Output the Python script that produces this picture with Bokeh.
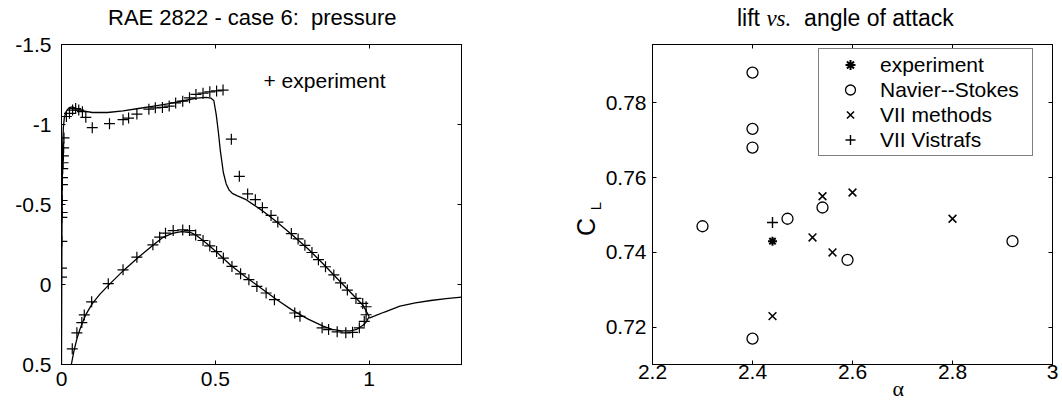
from bokeh.plotting import figure
from bokeh.layouts import row, column
from bokeh.models import Range1d, FixedTicker, LinearAxis, Label, Legend, LegendItem, Div
from bokeh.embed import file_html
from bokeh.resources import INLINE

FONT = "Liberation Sans"
SERIF = "Liberation Serif"

# ---------------- left panel: pressure distribution ----------------
left_title = "RAE 2822 - case 6:  pressure"
left_xticks = [0, 0.5, 1]
left_xtick_labels = ["0", "0.5", "1"]
left_yticks = [-1.5, -1, -0.5, 0, 0.5]
left_ytick_labels = ["-1.5", "-1", "-0.5", "0", "0.5"]

# computed Cp, upper surface (from leading edge to trailing edge)
cp_upper_x = [0.0, 0.0005, 0.001, 0.0015, 0.002, 0.003, 0.004, 0.006, 0.009, 0.013,
              0.018, 0.025, 0.035, 0.05, 0.07, 0.1, 0.15, 0.2, 0.25, 0.3,
              0.35, 0.4, 0.44, 0.47, 0.485, 0.495, 0.503, 0.51, 0.516, 0.526,
              0.535, 0.545, 0.555, 0.57, 0.6, 0.65, 0.7, 0.75, 0.8, 0.85,
              0.9, 0.95, 0.98, 1.0]
cp_upper_y = [0.5, 0.2, -0.1, -0.35, -0.55, -0.75, -0.88, -0.98, -1.04, -1.07,
              -1.09, -1.105, -1.11, -1.1, -1.085, -1.075, -1.075, -1.085, -1.1, -1.115,
              -1.13, -1.15, -1.165, -1.17, -1.165, -1.15, -1.06, -0.95, -0.84, -0.7,
              -0.63, -0.59, -0.57, -0.555, -0.53, -0.465, -0.39, -0.31, -0.225, -0.13,
              -0.03, 0.07, 0.13, 0.2]

# computed Cp, lower surface
cp_lower_x = [0.032, 0.04, 0.05, 0.06, 0.07, 0.08, 0.1, 0.125, 0.15, 0.2,
              0.25, 0.3, 0.33, 0.36, 0.39, 0.42, 0.44, 0.47, 0.5, 0.55,
              0.6, 0.65, 0.7, 0.75, 0.8, 0.85, 0.88, 0.91, 0.94, 0.96,
              0.98, 0.99, 1.0]
cp_lower_y = [0.5, 0.42, 0.34, 0.28, 0.23, 0.185, 0.12, 0.06, 0.01, -0.085,
              -0.17, -0.25, -0.295, -0.32, -0.33, -0.325, -0.305, -0.26, -0.21, -0.12,
              -0.045, 0.025, 0.095, 0.16, 0.215, 0.26, 0.28, 0.29, 0.29, 0.28,
              0.255, 0.235, 0.2]

# computed Cp in the wake
wake_x = [1.0, 1.02, 1.05, 1.1, 1.15, 1.2, 1.25, 1.3]
wake_y = [0.21, 0.195, 0.172, 0.135, 0.115, 0.1, 0.088, 0.079]

# experiment, upper surface
exp_upper_x = [0.0, 0.0, 0.001, 0.001, 0.002, 0.002, 0.003, 0.003, 0.004, 0.005,
               0.006, 0.007, 0.008, 0.016, 0.026, 0.036, 0.046, 0.056, 0.068, 0.079,
               0.10, 0.156, 0.20, 0.218, 0.245, 0.284, 0.305, 0.328, 0.35, 0.371,
               0.394, 0.416, 0.437, 0.46, 0.482, 0.504, 0.525, 0.552, 0.578, 0.605,
               0.63, 0.653, 0.681, 0.703, 0.747, 0.769, 0.791, 0.814, 0.835, 0.858,
               0.885, 0.907, 0.929, 0.957, 0.979, 0.99]
exp_upper_y = [-0.046, -0.102, -0.27, -0.419, -0.45, -0.525, -0.624, -0.668, -0.724, -0.761,
               -0.804, -0.854, -0.916, -1.05, -1.07, -1.09, -1.10, -1.09, -1.08, -1.045,
               -0.98, -1.005, -1.03, -1.04, -1.065, -1.096, -1.104, -1.107, -1.115, -1.135,
               -1.146, -1.167, -1.188, -1.196, -1.204, -1.21, -1.215, -0.908, -0.676, -0.566,
               -0.53, -0.48, -0.432, -0.39, -0.318, -0.285, -0.245, -0.2, -0.155, -0.111,
               -0.06, -0.01, 0.035, 0.087, 0.118, 0.139]

# experiment, lower surface
exp_lower_x = [0.035, 0.05, 0.066, 0.074, 0.098, 0.152, 0.2, 0.245, 0.297, 0.319,
               0.338, 0.363, 0.394, 0.416, 0.436, 0.46, 0.482, 0.504, 0.526, 0.554,
               0.582, 0.609, 0.635, 0.665, 0.692, 0.758, 0.775, 0.847, 0.868, 0.896,
               0.924, 0.946, 0.968, 0.984, 0.99]
exp_lower_y = [0.402, 0.302, 0.238, 0.19, 0.108, -0.005, -0.092, -0.171, -0.248, -0.296,
               -0.321, -0.337, -0.341, -0.337, -0.31, -0.275, -0.241, -0.206, -0.165, -0.113,
               -0.067, -0.03, 0.012, 0.053, 0.095, 0.178, 0.199, 0.271, 0.282, 0.296,
               0.302, 0.299, 0.271, 0.23, 0.189]

# ---------------- right panel: lift vs angle of attack ----------------
right_xticks = [2.2, 2.4, 2.6, 2.8, 3.0]
right_xtick_labels = ["2.2", "2.4", "2.6", "2.8", "3"]
right_yticks = [0.72, 0.74, 0.76, 0.78]
right_ytick_labels = ["0.72", "0.74", "0.76", "0.78"]

exp_alpha = [2.44]
exp_cl = [0.743]
ns_alpha = [2.4, 2.4, 2.4, 2.3, 2.47, 2.54, 2.59, 2.4, 2.92]
ns_cl = [0.788, 0.773, 0.768, 0.747, 0.749, 0.752, 0.738, 0.717, 0.743]
vii_alpha = [2.54, 2.6, 2.52, 2.56, 2.44, 2.8]
vii_cl = [0.755, 0.756, 0.744, 0.740, 0.723, 0.749]
vis_alpha = [2.44]
vis_cl = [0.748]
legend_labels = ["experiment", "Navier--Stokes", "VII methods", "VII Vistrafs"]


def style(p, xticks, xlabels, yticks, ylabels, xstandoff, ystandoff):
    p.xgrid.visible = False
    p.ygrid.visible = False
    p.outline_line_color = "black"
    p.outline_line_width = 1
    p.outline_line_alpha = 1
    p.background_fill_color = "white"
    p.border_fill_color = None
    xa = p.below[0]
    ya = p.left[0]
    xa.ticker = FixedTicker(ticks=xticks)
    xa.major_label_overrides = dict(zip(xticks, xlabels))
    ya.ticker = FixedTicker(ticks=yticks)
    ya.major_label_overrides = dict(zip(yticks, ylabels))
    for ax, so in ((xa, xstandoff), (ya, ystandoff)):
        ax.major_tick_in = 4
        ax.major_tick_out = 0
        ax.minor_tick_line_color = None
        ax.axis_line_color = "black"
        ax.major_tick_line_color = "black"
        ax.major_label_text_font = FONT
        ax.major_label_text_font_size = "21px"
        ax.major_label_text_color = "black"
        ax.major_label_standoff = so
    for loc, ticks in (("above", xticks), ("right", yticks)):
        m = LinearAxis(ticker=FixedTicker(ticks=ticks), major_tick_in=4, major_tick_out=0,
                       minor_tick_line_color=None, major_label_text_font_size="1px",
                       major_label_text_color=None, major_label_standoff=0,
                       axis_line_color="black", major_tick_line_color="black")
        p.add_layout(m, loc)


def span(text, left, top, size, font=FONT, style="normal", lh=None, extra=""):
    lh = lh or size
    return (f'<span style="position:absolute;left:{left}px;top:{top}px;'
            f"font-family:'{font}';font-size:{size}px;font-style:{style};"
            f'line-height:{lh}px;white-space:pre;color:black;{extra}">{text}</span>')


def box(width, height, inner):
    return (f'<div style="position:relative;width:{width}px;height:{height}px;'
            f'overflow:visible;margin:0;padding:0;">{inner}</div>')


# ---- header with both titles ----
right_title = ("lift <span style=\"font-family:'Liberation Serif';font-style:italic\">vs.</span>"
               "  angle of attack")
header_html = box(1062, 30, span(left_title, 108, 7, 22) + span(right_title, 737, 7, 23))
header = Div(text=header_html, width=1062, height=30, margin=0)

# ---- left plot ----
p1 = figure(width=548, height=371, x_range=Range1d(0, 1.3), y_range=Range1d(0.5, -1.5),
            output_backend="svg", toolbar_location=None, title=None,
            min_border_left=61, min_border_right=87, min_border_top=14, min_border_bottom=37)
style(p1, left_xticks, left_xtick_labels, left_yticks, left_ytick_labels, 7, 10)

p1.line(cp_upper_x, cp_upper_y, line_color="black", line_width=1.3)
p1.line(cp_lower_x, cp_lower_y, line_color="black", line_width=1.3)
p1.line(wake_x, wake_y, line_color="black", line_width=1.3)
p1.scatter(exp_upper_x, exp_upper_y, marker="cross", size=11, line_color="black", line_width=1.2)
p1.scatter(exp_lower_x, exp_lower_y, marker="cross", size=11, line_color="black", line_width=1.2)
p1.add_layout(Label(x=202, y=284, x_units="screen", y_units="screen", text="+ experiment",
                    text_align="left", text_baseline="middle", text_font=FONT,
                    text_font_size="21px", text_color="black"))

# ---- C_L label strip (rotated, subscript L) ----
rot = "transform:rotate(-90deg);transform-origin:50% 50%;text-align:center;"
cl_html = box(52, 371,
              span("C", 38 - 20, 197 - 15, 25, lh=30, extra=rot + "width:40px;")
              + span("L", 48 - 10, 176 - 10, 15, lh=20, extra=rot + "width:20px;"))
cl = Div(text=cl_html, width=52, height=371, margin=0)

# ---- right plot ----
p2 = figure(width=462, height=358, x_range=Range1d(2.2, 3.0), y_range=Range1d(0.7101, 0.7955),
            output_backend="svg", toolbar_location=None, title=None,
            min_border_left=52, min_border_right=10, min_border_top=14, min_border_bottom=24)
style(p2, right_xticks, right_xtick_labels, right_yticks, right_ytick_labels, 0, 6)

r_exp = p2.scatter(exp_alpha, exp_cl, marker="asterisk", size=9, line_color="black", line_width=2)
r_ns = p2.scatter(ns_alpha, ns_cl, marker="circle", size=11, line_color="black",
                  fill_color=None, line_width=1.3)
r_vii = p2.scatter(vii_alpha, vii_cl, marker="x", size=11, line_color="black", line_width=1.5)
r_vis = p2.scatter(vis_alpha, vis_cl, marker="cross", size=11, line_color="black", line_width=1.4)

legend = Legend(items=[LegendItem(label=lab, renderers=[r])
                       for lab, r in zip(legend_labels, [r_exp, r_ns, r_vii, r_vis])],
                location=(166, 208), margin=0, padding=3, spacing=0,
                glyph_width=56, glyph_height=25, label_height=25, label_width=149,
                label_standoff=2, label_text_font=FONT, label_text_font_size="21px",
                label_text_color="black", border_line_color="black", border_line_width=1,
                background_fill_color="white", background_fill_alpha=1)
p2.add_layout(legend)

# ---- x-axis symbol under right plot ----
alpha_html = box(462, 13, span("α", 298.3 - 20, -11.4, 22, font=SERIF, lh=24,
                                extra="width:40px;text-align:center;"))
afig = Div(text=alpha_html, width=462, height=13, margin=0)

layout = column(header, row(p1, cl, column(p2, afig, spacing=0), spacing=0), spacing=0)
open("out.html", "w").write(file_html(layout, INLINE))
